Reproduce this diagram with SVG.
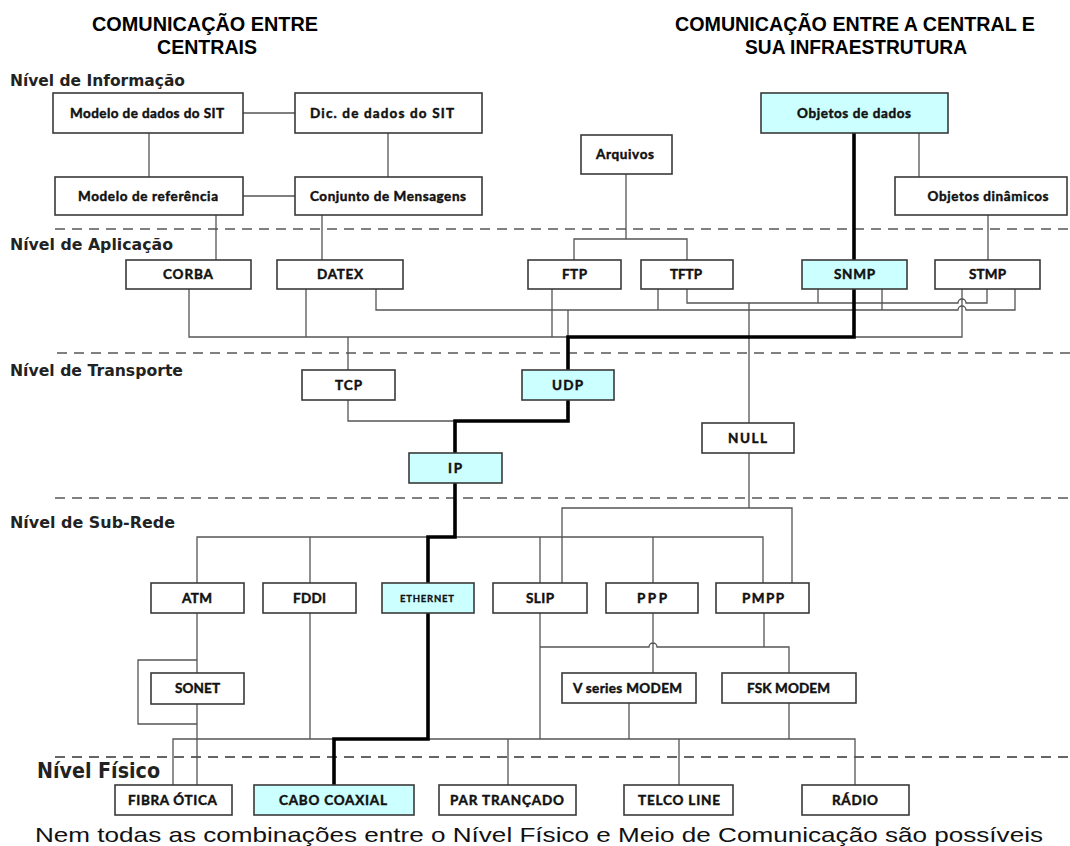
<svg xmlns="http://www.w3.org/2000/svg" width="1070" height="846" viewBox="0 0 1070 846">
<style>
.box{fill:#fff;stroke:#3a3a3a;stroke-width:1.6}
.hl{fill:#ccffff}
.lbl{font-family:Lato,"Open Sans","DejaVu Sans",sans-serif;font-weight:bold;font-size:13.5px;fill:#111;stroke:#111;stroke-width:0.45;text-anchor:middle}
.sm{font-size:9.5px;stroke-width:0.3}
.ln{fill:none;stroke:#555;stroke-width:1.3}
.thick{fill:none;stroke:#000;stroke-width:3.6;stroke-linejoin:miter;stroke-linecap:square}
.dash{stroke:#808080;stroke-width:2;stroke-dasharray:10 7}
.dash2{stroke:#333;stroke-width:1.5;stroke-dasharray:10 7}
.lvl{font-family:"DejaVu Sans","Liberation Sans",sans-serif;font-weight:bold;font-size:15px;fill:#222}
.ttl{font-family:"Liberation Sans",Arial,sans-serif;font-weight:bold;font-size:20px;fill:#000;text-anchor:middle}
.note{font-family:"Liberation Sans",Arial,sans-serif;font-size:21px;fill:#111}
</style>
<rect x="0" y="0" width="1070" height="846" fill="#fff"/>

<g id="titles">
<text class="ttl" x="205" y="31" textLength="226" lengthAdjust="spacingAndGlyphs">COMUNICAÇÃO ENTRE</text>
<text class="ttl" x="207" y="54" textLength="100" lengthAdjust="spacingAndGlyphs">CENTRAIS</text>
<text class="ttl" x="855" y="31" textLength="360" lengthAdjust="spacingAndGlyphs">COMUNICAÇÃO ENTRE A CENTRAL E</text>
<text class="ttl" x="856" y="54" textLength="222" lengthAdjust="spacingAndGlyphs">SUA INFRAESTRUTURA</text>
</g>

<g id="levels">
<line class="dash" x1="55" y1="229" x2="1070" y2="229"/>
<line class="dash" x1="57" y1="353" x2="1070" y2="353"/>
<line class="dash" x1="55" y1="498" x2="1070" y2="498"/>
<line class="dash2" x1="55" y1="757" x2="1070" y2="757"/>
<text class="lvl" x="10" y="86" textLength="175" lengthAdjust="spacingAndGlyphs">Nível de Informação</text>
<text class="lvl" x="10" y="250" textLength="163" lengthAdjust="spacingAndGlyphs">Nível de Aplicação</text>
<text class="lvl" x="10" y="376" textLength="173" lengthAdjust="spacingAndGlyphs">Nível de Transporte</text>
<text class="lvl" x="10" y="528" textLength="165" lengthAdjust="spacingAndGlyphs">Nível de Sub-Rede</text>
<text class="lvl" x="37" y="778" style="font-size:21px" textLength="123" lengthAdjust="spacingAndGlyphs">Nível Físico</text>
<text class="note" x="35" y="842" textLength="1008" lengthAdjust="spacingAndGlyphs">Nem todas as combinações entre o Nível Físico e Meio de Comunicação são possíveis</text>
</g>

<g id="connectors">
<path class="ln" d="M243,113 H295 M149,133 V177 M388,133 V177 M243,196 H295 M216,215 V260 M322,215 V260"/>
<path class="ln" d="M626,174 V239 M574,260 V239 H687 V260 M919,133 V177 M988,215 V260"/>
<path class="ln" d="M189,289 V337 H962 V289 M306,289 V337"/>
<path class="ln" d="M376,289 V310 H958 a4,4 0 0 1 8,0 H1015 V289"/>
<path class="ln" d="M687,289 V303 H958 a4,4 0 0 1 8,0 H987 V289"/>
<path class="ln" d="M552,289 V337 M658,289 V310 M882,289 V310 M818,289 V303 M568,310 V337"/>
<path class="ln" d="M348,337 V370 M749,303 V423 M348,400 V421 H455"/>
<path class="ln" d="M749,453 V508 M562,583 V508 H792 V583"/>
<path class="ln" d="M197,583 V537 H763 V583 M310,537 V583 M540,537 V583 M653,537 V583"/>
<path class="ln" d="M197,613 V673 M197,660 H138 V724 H197 M197,704 V785"/>
<path class="ln" d="M310,613 V739 M173,785 V739 H855 V785 M540,613 V739"/>
<path class="ln" d="M653,613 V673 M540,647 H649 a4,4 0 0 1 8,0 H789 V673 M764,613 V647"/>
<path class="ln" d="M629,703 V739 M789,703 V739 M508,739 V785 M679,739 V785"/>
<path class="thick" d="M854,133 V337 H568 V370"/>
<path class="thick" d="M568,400 V421 H455 V453"/>
<path class="thick" d="M455,483 V537 H428 V583"/>
<path class="thick" d="M428,613 V739 H334 V785"/>
</g>

<g id="n-modelo-dados"><rect class="box" x="53" y="93" width="190" height="40"/><text class="lbl" x="147" y="117.5" textLength="154">Modelo de dados do SIT</text></g>
<g id="n-dic-dados"><rect class="box" x="295" y="93" width="187" height="40"/><text class="lbl" x="382" y="117.5" textLength="144">Dic. de dados do SIT</text></g>
<g id="n-modelo-ref"><rect class="box" x="55" y="177" width="188" height="38"/><text class="lbl" x="148" y="200.5" textLength="140">Modelo de referência</text></g>
<g id="n-conjunto"><rect class="box" x="295" y="177" width="187" height="38"/><text class="lbl" x="388" y="200.5" textLength="156">Conjunto de Mensagens</text></g>
<g id="n-arquivos"><rect class="box" x="581" y="135" width="91" height="39"/><text class="lbl" x="625" y="159" textLength="58">Arquivos</text></g>
<g id="n-objetos-dados"><rect class="box hl" x="761" y="93" width="187" height="40"/><text class="lbl" x="854" y="117.5" textLength="114">Objetos de dados</text></g>
<g id="n-objetos-din"><rect class="box" x="895" y="177" width="172" height="38"/><text class="lbl" x="988" y="200.5" textLength="121">Objetos dinâmicos</text></g>

<g id="n-corba"><rect class="box" x="126" y="260" width="125" height="29"/><text class="lbl" x="188" y="279" textLength="50">CORBA</text></g>
<g id="n-datex"><rect class="box" x="277" y="260" width="126" height="29"/><text class="lbl" x="340" y="279" textLength="46">DATEX</text></g>
<g id="n-ftp"><rect class="box" x="528" y="260" width="93" height="29"/><text class="lbl" x="574.5" y="279" textLength="25">FTP</text></g>
<g id="n-tftp"><rect class="box" x="641" y="260" width="92" height="29"/><text class="lbl" x="686" y="279" textLength="32">TFTP</text></g>
<g id="n-snmp"><rect class="box hl" x="802" y="260" width="105" height="29"/><text class="lbl" x="854.5" y="279" textLength="41">SNMP</text></g>
<g id="n-stmp"><rect class="box" x="935" y="260" width="105" height="29"/><text class="lbl" x="987.5" y="279" textLength="37">STMP</text></g>

<g id="n-tcp"><rect class="box" x="302" y="370" width="93" height="30"/><text class="lbl" x="348.5" y="389.5" textLength="27">TCP</text></g>
<g id="n-udp"><rect class="box hl" x="522" y="370" width="92" height="30"/><text class="lbl" x="567.5" y="389.5" textLength="31">UDP</text></g>
<g id="n-ip"><rect class="box hl" x="409" y="453" width="93" height="30"/><text class="lbl" x="455" y="472.5" textLength="14">IP</text></g>
<g id="n-null"><rect class="box" x="702" y="423" width="92" height="30"/><text class="lbl" x="747.5" y="442.5" textLength="39">NULL</text></g>

<g id="n-atm"><rect class="box" x="151" y="583" width="93" height="30"/><text class="lbl" x="197" y="602.5" textLength="30">ATM</text></g>
<g id="n-fddi"><rect class="box" x="263" y="583" width="93" height="30"/><text class="lbl" x="309.5" y="602.5" textLength="33">FDDI</text></g>
<g id="n-ethernet"><rect class="box hl" x="382" y="583" width="92" height="30"/><text class="lbl sm" x="427" y="601.5" textLength="54">ETHERNET</text></g>
<g id="n-slip"><rect class="box" x="493" y="583" width="94" height="30"/><text class="lbl" x="540" y="602.5" textLength="28">SLIP</text></g>
<g id="n-ppp"><rect class="box" x="606" y="583" width="92" height="30"/><text class="lbl" x="652" y="602.5" textLength="30">PPP</text></g>
<g id="n-pmpp"><rect class="box" x="716" y="583" width="93" height="30"/><text class="lbl" x="763" y="602.5" textLength="42">PMPP</text></g>
<g id="n-sonet"><rect class="box" x="151" y="673" width="93" height="31"/><text class="lbl" x="197.5" y="693" textLength="45">SONET</text></g>
<g id="n-vmodem"><rect class="box" x="562" y="673" width="134" height="30"/><text class="lbl" x="627.5" y="692.5" textLength="109">V series MODEM</text></g>
<g id="n-fsk"><rect class="box" x="722" y="673" width="134" height="30"/><text class="lbl" x="788.5" y="692.5" textLength="83">FSK MODEM</text></g>

<g id="n-fibra"><rect class="box" x="115" y="785" width="117" height="30"/><text class="lbl" x="172.5" y="804.5" textLength="89">FIBRA ÓTICA</text></g>
<g id="n-cabo"><rect class="box hl" x="254" y="785" width="160" height="30"/><text class="lbl" x="333" y="804.5" textLength="108">CABO COAXIAL</text></g>
<g id="n-par"><rect class="box" x="439" y="785" width="137" height="30"/><text class="lbl" x="507" y="804.5" textLength="114">PAR TRANÇADO</text></g>
<g id="n-telco"><rect class="box" x="624" y="785" width="109" height="30"/><text class="lbl" x="679" y="804.5" textLength="82">TELCO LINE</text></g>
<g id="n-radio"><rect class="box" x="802" y="785" width="107" height="30"/><text class="lbl" x="855" y="804.5" textLength="46">RÁDIO</text></g>
</svg>
